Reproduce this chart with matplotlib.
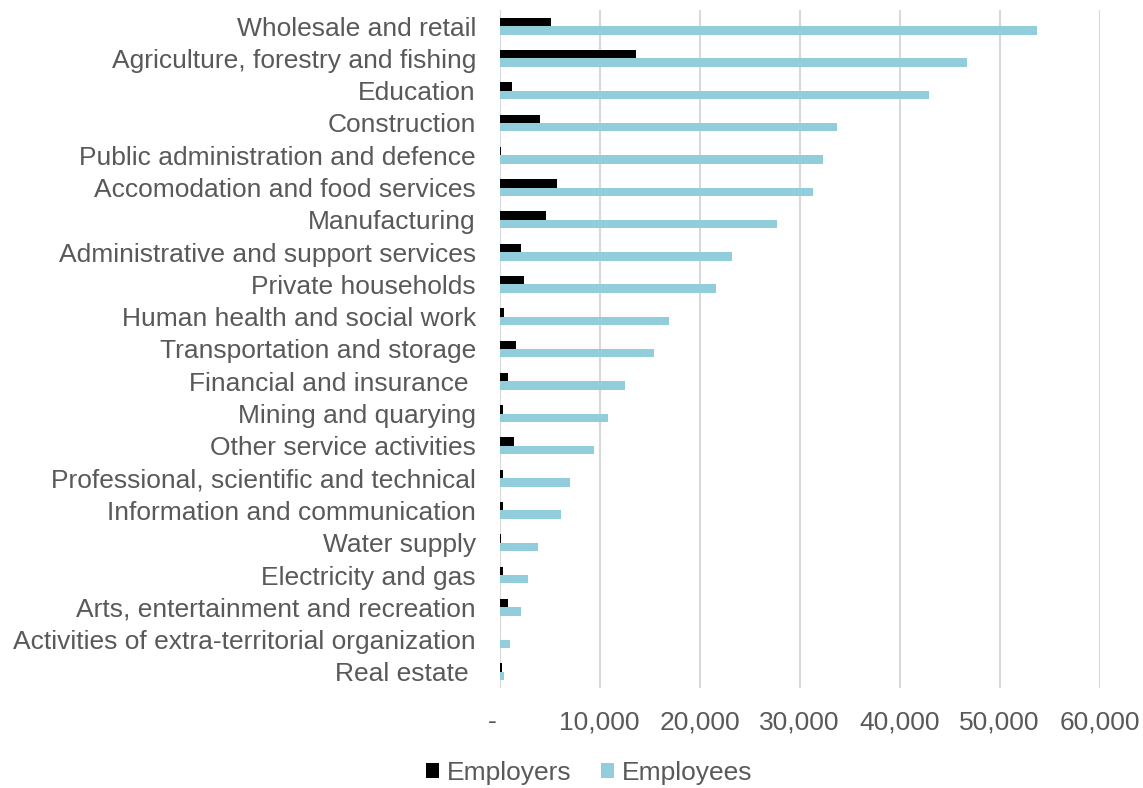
import matplotlib
matplotlib.use("Agg")
import matplotlib.pyplot as plt
import numpy as np

plt.rcParams['font.family'] = ['Liberation Sans', 'DejaVu Sans']

sectors = [
    "Wholesale and retail",
    "Agriculture, forestry and fishing",
    "Education",
    "Construction",
    "Public administration and defence",
    "Accomodation and food services",
    "Manufacturing",
    "Administrative and support services",
    "Private households",
    "Human health and social work",
    "Transportation and storage",
    "Financial and insurance ",
    "Mining and quarying",
    "Other service activities",
    "Professional, scientific and technical",
    "Information and communication",
    "Water supply",
    "Electricity and gas",
    "Arts, entertainment and recreation",
    "Activities of extra-territorial organization",
    "Real estate ",
]
employers = [5100, 13650, 1200, 4000, 100, 5750, 4600, 2100, 2400, 400,
             1650, 800, 350, 1450, 350, 300, 100, 300, 800, 0, 200]
employees = [53700, 46700, 42950, 33700, 32350, 31300, 27700, 23250, 21650, 16900,
             15450, 12500, 10850, 9450, 7000, 6150, 3800, 2800, 2150, 1000, 400]
x_ticks = [0, 10000, 20000, 30000, 40000, 50000, 60000]
x_tick_labels = ["-  ", "10,000", "20,000", "30,000", "40,000", "50,000", "60,000"]

text_color = "#595959"
grid_color = "#D9D9D9"
c_employers = "#000000"
c_employees = "#92CDDC"
fs = 19

fig = plt.figure(figsize=(11.43, 7.88), dpi=100)
ax = fig.add_axes([499.5 / 1143, 1 - 688 / 788, 600 / 1143, 678 / 788])

y = np.arange(len(sectors))
h = 0.26
ax.barh(y - h / 2, employers, height=h, color=c_employers, label="Employers", zorder=3)
ax.barh(y + h / 2, employees, height=h, color=c_employees, label="Employees", zorder=3)

ax.set_xlim(0, 60000)
ax.set_ylim(len(sectors) - 0.5, -0.5)
ax.set_yticks(y)
ax.set_yticklabels(sectors, fontsize=fs, color=text_color)
ax.set_xticks(x_ticks)
ax.set_xticklabels(x_tick_labels, fontsize=fs, color=text_color)
ax.tick_params(axis='y', length=0, pad=17)
ax.tick_params(axis='x', length=0, pad=16)
ax.xaxis.grid(True, color=grid_color, linewidth=1.5, zorder=0)
ax.set_axisbelow(True)
for s in ax.spines.values():
    s.set_visible(False)

handles, labels = ax.get_legend_handles_labels()
fig.legend(handles, labels, loc='center', bbox_to_anchor=(589 / 1143, 1 - 773 / 788),
           ncol=2, frameon=False, fontsize=fs, labelcolor=text_color,
           handlelength=0.5, handleheight=0.5, handletextpad=0.3, columnspacing=1.1)

fig.savefig("out.png", dpi=100)
